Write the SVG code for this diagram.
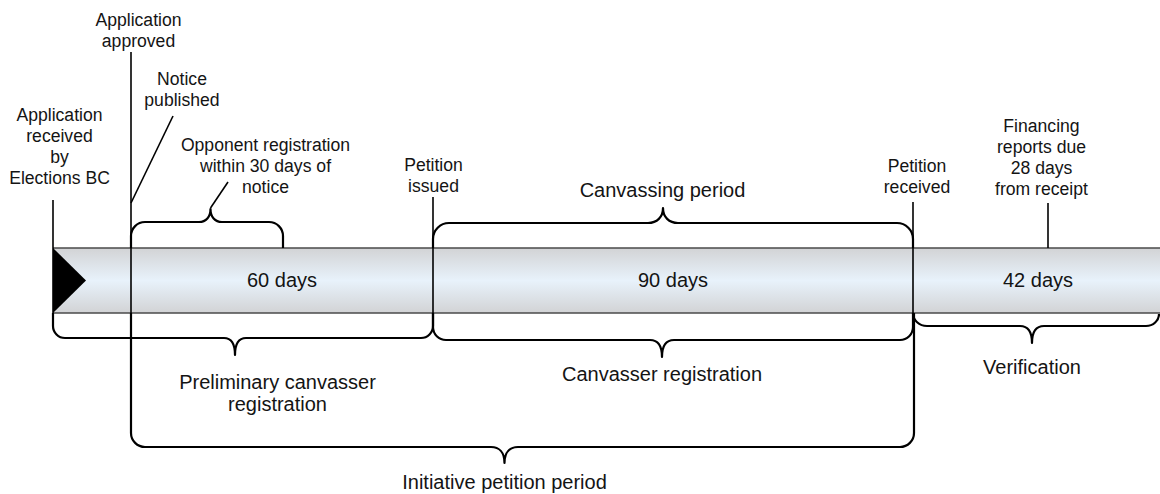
<svg xmlns="http://www.w3.org/2000/svg" width="1160" height="494" viewBox="0 0 1160 494">
<defs>
<linearGradient id="barGrad" x1="0" y1="0" x2="0" y2="1">
<stop offset="0" stop-color="#d2d3d5"/>
<stop offset="0.5" stop-color="#e8f2fb"/>
<stop offset="1" stop-color="#d2d3d5"/>
</linearGradient>
<style>
.t{font-family:"Liberation Sans",Arial,sans-serif;font-size:17.6px;fill:#141414;text-anchor:middle}
.b{font-family:"Liberation Sans",Arial,sans-serif;font-size:20px;fill:#141414;text-anchor:middle}
.ln{stroke:#000;stroke-width:1.6;fill:none}
.br{stroke:#000;stroke-width:2.2;fill:none;stroke-linejoin:round}
.edge{stroke:#4a4a4a;stroke-width:1.3}
</style>
</defs>
<rect width="1160" height="494" fill="#fff"/>

<g id="timeline-bar">
<rect x="53" y="248" width="1107" height="65" fill="url(#barGrad)"/>
<line class="edge" x1="53" y1="248" x2="1160" y2="248"/>
<line class="edge" x1="53" y1="313" x2="1160" y2="313"/>
<polygon points="53,248 86,280.5 53,313" fill="#000"/>
<text class="b" x="282" y="287">60 days</text>
<text class="b" x="673" y="287">90 days</text>
<text class="b" x="1038" y="287">42 days</text>
</g>

<g id="connectors">
<line class="ln" x1="53" y1="200" x2="53" y2="314"/>
<line class="ln" x1="131" y1="52" x2="131" y2="314"/>
<line class="ln" x1="433" y1="197" x2="433" y2="314"/>
<line class="ln" x1="913" y1="202" x2="913" y2="314"/>
<line class="ln" x1="1048" y1="203" x2="1048" y2="248"/>
<line class="ln" x1="131" y1="203" x2="173" y2="116"/>
<line class="ln" x1="210.5" y1="208" x2="228" y2="182"/>
</g>

<g id="brace-opponent">
<path class="br" d="M131,248 L131,236 A14,14 0 0 1 145,222 L199,222 C206,222 210.5,217 210.5,209 C210.5,217 215,222 222,222 L269,222 A14,14 0 0 1 283,236 L283,248"/>
</g>
<g id="brace-canvassing">
<path class="br" d="M433,248 L433,239 A16,16 0 0 1 449,223 L648,223 C657,223 663,217 663,208 C663,217 669,223 678,223 L897,223 A16,16 0 0 1 913,239 L913,248"/>
</g>
<g id="brace-preliminary">
<path class="br" d="M53,313 L53,326 A12,12 0 0 0 65,338 L224,338 C231,338 235,343 235,355 C235,343 239,338 246,338 L421,338 A12,12 0 0 0 433,326 L433,313"/>
</g>
<g id="brace-canvasser">
<path class="br" d="M433,313 L433,327 A13,13 0 0 0 446,340 L650,340 C657,340 662,345 662,357 C662,345 667,340 674,340 L900,340 A13,13 0 0 0 913,327 L913,313"/>
</g>
<g id="brace-verification">
<path class="br" d="M913,313 A14,13 0 0 0 927,326 L1020,326 C1027,326 1032,331 1032,343 C1032,331 1037,326 1044,326 L1146,326 A13,12 0 0 0 1159,314"/>
</g>
<g id="brace-initiative">
<path class="br" d="M131,313 L131,433 A14,14 0 0 0 145,447 L491,447 C499,447 504.5,452 504.5,463 C504.5,452 510,447 518,447 L900,447 A14,14 0 0 0 914,433 L914,313"/>
</g>

<g id="label-app-received">
<text class="t" x="59.5" y="121">Application</text>
<text class="t" x="59.5" y="142">received</text>
<text class="t" x="59.5" y="163">by</text>
<text class="t" x="59.5" y="184">Elections BC</text>
</g>
<g id="label-app-approved">
<text class="t" x="138.5" y="26">Application</text>
<text class="t" x="138.5" y="47">approved</text>
</g>
<g id="label-notice">
<text class="t" x="182" y="85">Notice</text>
<text class="t" x="182" y="106">published</text>
</g>
<g id="label-opponent">
<text class="t" x="265.5" y="151">Opponent registration</text>
<text class="t" x="265.5" y="172">within 30 days of</text>
<text class="t" x="265.5" y="193">notice</text>
</g>
<g id="label-petition-issued">
<text class="t" x="433.5" y="171">Petition</text>
<text class="t" x="433.5" y="192">issued</text>
</g>
<g id="label-canvassing">
<text class="b" x="662.5" y="197">Canvassing period</text>
</g>
<g id="label-petition-received">
<text class="t" x="917" y="172">Petition</text>
<text class="t" x="917" y="193">received</text>
</g>
<g id="label-financing">
<text class="t" x="1041.5" y="131.5">Financing</text>
<text class="t" x="1041.5" y="152.5">reports due</text>
<text class="t" x="1041.5" y="173.5">28 days</text>
<text class="t" x="1041.5" y="194.5">from receipt</text>
</g>
<g id="label-preliminary">
<text class="b" x="277.5" y="389">Preliminary canvasser</text>
<text class="b" x="277.5" y="411">registration</text>
</g>
<g id="label-canvasser">
<text class="b" x="662" y="381">Canvasser registration</text>
</g>
<g id="label-verification">
<text class="b" x="1032" y="374">Verification</text>
</g>
<g id="label-initiative">
<text class="b" x="504.5" y="489">Initiative petition period</text>
</g>
</svg>
